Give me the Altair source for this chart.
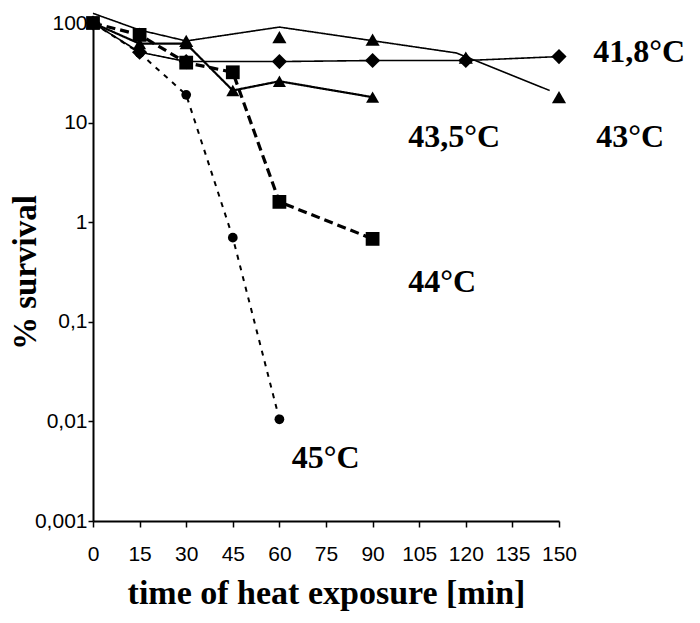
import altair as alt
import pandas as pd

# time points (min) and % survival values
t_418 = [0, 15, 30, 60, 90, 120, 150]
v_418 = [100, 51, 41, 41, 42, 42, 46]

t_43_pts = [0, 15, 30, 60, 90, 120, 150]
v_43_pts = [100, 78, 66, 72, 68, 45, 18]
t_43_line = [0, 15, 30, 60, 117, 147]
v_43_line = [125, 85, 66, 91, 50, 21]

t_435 = [0, 15, 30, 45, 60, 90]
v_435 = [100, 62, 62, 21, 26, 18]

t_44 = [0, 15, 30, 45, 60, 90]
v_44 = [100, 76, 40, 32, 1.6, 0.68]

t_45 = [0, 15, 30, 45, 60]
v_45 = [100, 50, 19, 0.7, 0.0105]

labels = ["41,8°C", "43°C", "43,5°C", "44°C", "45°C"]
label_t = [161, 162, 101.5, 101.5, 64]
label_v = [41, 5.7, 5.7, 0.2, 0.0034]

x_ticks = [0, 15, 30, 45, 60, 75, 90, 105, 120, 135, 150]
y_ticks = [0.001, 0.01, 0.1, 1, 10, 100]

X = alt.X("t:Q", scale=alt.Scale(domain=[0, 150], nice=False),
          axis=alt.Axis(values=x_ticks, title="time of heat exposure [min]",
                        labelPadding=16, titlePadding=12, tickSize=6,
                        labelOverlap=False, labelFlush=False,
                        titleFontWeight="bold"))
Y = alt.Y("v:Q", scale=alt.Scale(type="log", domain=[0.001, 100], nice=False),
          axis=alt.Axis(values=y_ticks, title="% survival", tickSize=5, labelPadding=1,
                        labelOverlap=False, labelFlush=False,
                        labelExpr="replace(toString(datum.value), '.', ',')",
                        titleX=-51, titleFontSize=33, titleFontWeight="bold"))

series = [
    # line t, line v, point t, point v, shape, size, width, dash
    (t_418, v_418, t_418, v_418, "diamond", 230, 1.6, [1, 0]),
    (t_43_line, v_43_line, t_43_pts, v_43_pts, "triangle-up", 200, 1.6, [1, 0]),
    (t_435, v_435, t_435, v_435, "triangle-up", 170, 2.2, [1, 0]),
    (t_44, v_44, t_44, v_44, "square", 190, 3.2, [9, 5]),
    (t_45, v_45, t_45, v_45, "circle", 95, 2.0, [5, 6]),
]

layers = []
for lt, lv, pt, pv, shape, size, sw, dash in series:
    ldf = pd.DataFrame({"t": lt, "v": lv})
    pdf = pd.DataFrame({"t": pt, "v": pv})
    layers.append(alt.Chart(ldf).mark_line(color="black", strokeWidth=sw, strokeDash=dash)
                  .encode(x=X, y=Y))
    layers.append(alt.Chart(pdf).mark_point(shape=shape, filled=True, size=size,
                                            color="black", opacity=1)
                  .encode(x=X, y=Y))

ldf = pd.DataFrame({"t": label_t, "v": label_v, "label": labels})
layers.append(alt.Chart(ldf).mark_text(align="left", baseline="alphabetic",
                                       font="Liberation Serif", fontWeight="bold",
                                       fontSize=32, color="black")
              .encode(x=X, y=Y, text="label:N"))

chart = alt.layer(*layers).properties(
    width=466, height=498,
    padding={"left": 85, "top": 15, "right": 130, "bottom": 94},
    autosize=alt.AutoSizeParams(type="none"),
).configure_view(stroke=None).configure_axis(
    grid=False, domainColor="black", domainWidth=2, tickColor="black", tickWidth=1.5,
    labelFont="Liberation Sans", labelFontSize=21, labelColor="black",
    titleFont="Liberation Serif", titleFontWeight="bold", titleFontSize=34,
    titleColor="black",
)

chart.save("out.html", embed_options={"renderer": "svg", "actions": False})
